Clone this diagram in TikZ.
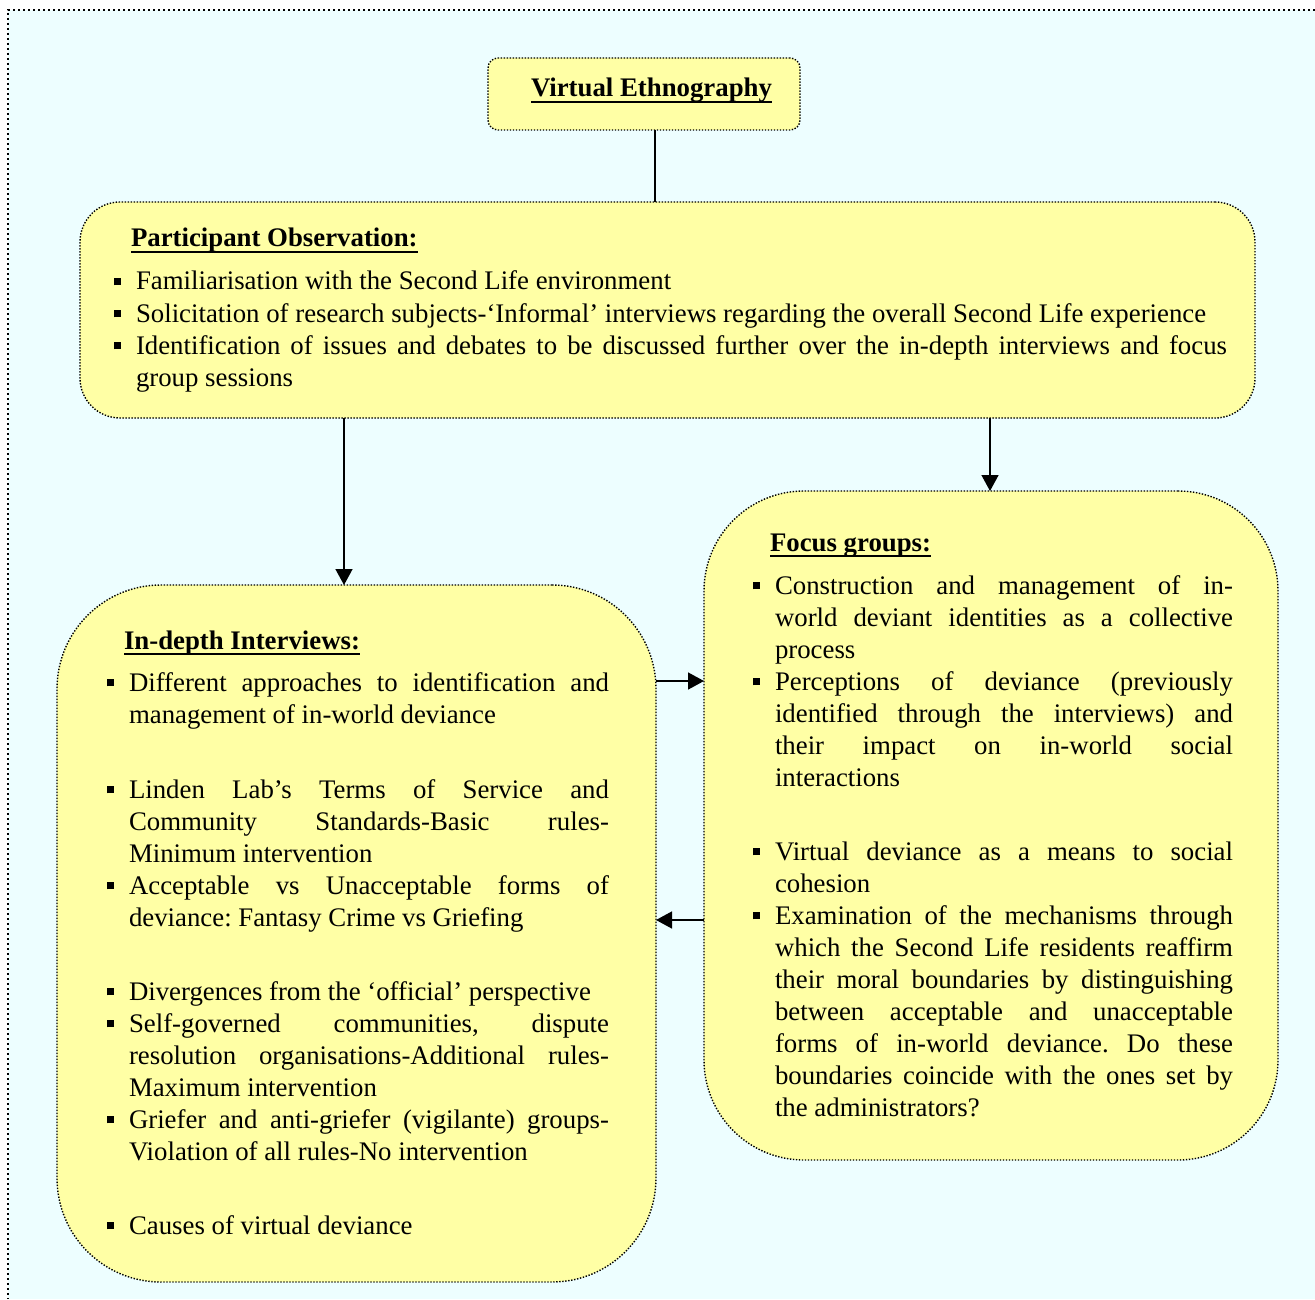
\documentclass[tikz,border=0pt]{standalone}
\usepackage{fontspec}
\setmainfont{Liberation Serif}
\usetikzlibrary{arrows.meta}

\definecolor{pagebg}{HTML}{EDFEFF}
\definecolor{boxfill}{HTML}{FFFFA5}

% square list bullet hung to the left of the text (also restores normal word spacing)
\newcommand\sqbullet{\spaceskip=0pt\xspaceskip=0pt\frenchspacing\llap{\rule[2.3pt]{3.6pt}{3.6pt}\hspace{7.5pt}}}
% a line stretched to the full text width
\newcommand\jline[1]{\noindent\hbox to\hsize{\spaceskip=0pt\xspaceskip=0pt\frenchspacing #1}\\}
% bold heading with a flat underline
\newcommand\headul[1]{\sbox0{\bfseries #1}\rlap{\rule[-2.9pt]{\wd0}{0.9pt}}\usebox0}

\tikzset{
  panel/.style={draw=black, line width=0.7pt, dash pattern=on 0.7pt off 0.8pt,
    fill=boxfill, outer sep=0pt, inner sep=0pt},
  frame/.style={draw=black, line width=1pt, dash pattern=on 1pt off 1.5pt},
  body/.style={anchor=base west, inner sep=0pt, outer sep=0pt, align=left,
    font=\fontsize{13.4}{16}\selectfont},
  head/.style={anchor=base west, inner sep=0pt, outer sep=0pt,
    font=\fontsize{13.4}{16}\selectfont},
  link/.style={draw=black, line width=0.75pt},
  arr/.style={link, -{Triangle[length=8pt,width=8.5pt]}},
}

\begin{document}
\begin{tikzpicture}[x=0.5pt,y=-0.5pt]
\useasboundingbox (0,0) rectangle (1315,1299);

% page background and dotted frame
\fill[pagebg] (8,10) rectangle (1315,1299);
\draw[frame] (1315,10) -- (8,10) -- (8,1299);

% panels
\node[panel, rounded corners=5pt, minimum width=156pt, minimum height=36pt] (ve) at (644,94) {};
\node[panel, rounded corners=20pt, minimum width=587.5pt, minimum height=108pt] (po) at (667.5,310) {};
\node[panel, rounded corners=52pt, minimum width=299.5pt, minimum height=348.5pt] (intv) at (356.5,933.5) {};
\node[panel, rounded corners=50pt, minimum width=287pt, minimum height=334.5pt] (foc) at (991,825.5) {};

% connector positions
\coordinate (xa) at (655,0);
\coordinate (xb) at (344,0);
\coordinate (xc) at (990,0);
\coordinate (ya) at (0,681);
\coordinate (yb) at (0,920);

\draw[link] (ve.south -| xa) -- (po.north -| xa);
\draw[arr] (po.south -| xb) -- (intv.north -| xb);
\draw[arr] (po.south -| xc) -- (foc.north -| xc);
\draw[arr] (intv.east |- ya) -- (foc.west |- ya);
\draw[arr] (foc.west |- yb) -- (intv.east |- yb);

% title
\node[head] (vet) at (531,97) {\headul{Virtual Ethnography}};

% participant observation
\node[head] (pot) at (131,247) {\headul{Participant Observation:}};
\node[body] (po1) at (136,290) {\sqbullet Familiarisation with the Second Life environment};
\node[body] (po2) at (136,322) {\sqbullet Solicitation of research subjects-‘Informal’ interviews regarding the overall Second Life experience};
\node[body, text width=545.5pt] (po3) at (136,354) {\sqbullet\jline{Identification of issues and debates to be discussed further over the in-depth interviews and focus}group sessions};

% in-depth interviews
\node[head] (it) at (124,649) {\headul{In-depth Interviews:}};
\node[body, text width=240pt] (i1) at (129,691) {\sqbullet\jline{Different approaches to identification and}management of in-world deviance};
\node[body, text width=240pt] (i2) at (129,798) {\sqbullet\jline{Linden Lab’s Terms of Service and}\jline{Community Standards-Basic rules-}Minimum intervention};
\node[body, text width=240pt] (i3) at (129,894) {\sqbullet\jline{Acceptable vs Unacceptable forms of}deviance: Fantasy Crime vs Griefing};
\node[body, text width=240pt] (i4) at (129,1000) {\sqbullet Divergences from the ‘official’ perspective};
\node[body, text width=240pt] (i5) at (129,1032) {\sqbullet\jline{Self-governed communities, dispute}\jline{resolution organisations-Additional rules-}Maximum intervention};
\node[body, text width=240pt] (i6) at (129,1128) {\sqbullet\jline{Griefer and anti-griefer (vigilante) groups-}Violation of all rules-No intervention};
\node[body, text width=240pt] (i7) at (129,1234) {\sqbullet Causes of virtual deviance};

% focus groups
\node[head] (ft) at (770,551) {\headul{Focus groups:}};
\node[body, text width=229pt] (f1) at (775,594) {\sqbullet\jline{Construction and management of in-}\jline{world deviant identities as a collective}process};
\node[body, text width=229pt] (f2) at (775,690) {\sqbullet\jline{Perceptions of deviance (previously}\jline{identified through the interviews) and}\jline{their impact on in-world social}interactions};
\node[body, text width=229pt] (f3) at (775,860) {\sqbullet\jline{Virtual deviance as a means to social}cohesion};
\node[body, text width=229pt] (f4) at (775,924) {\sqbullet\jline{Examination of the mechanisms through}\jline{which the Second Life residents reaffirm}\jline{their moral boundaries by distinguishing}\jline{between acceptable and unacceptable}\jline{forms of in-world deviance. Do these}\jline{boundaries coincide with the ones set by}the administrators?};
\end{tikzpicture}
\end{document}
